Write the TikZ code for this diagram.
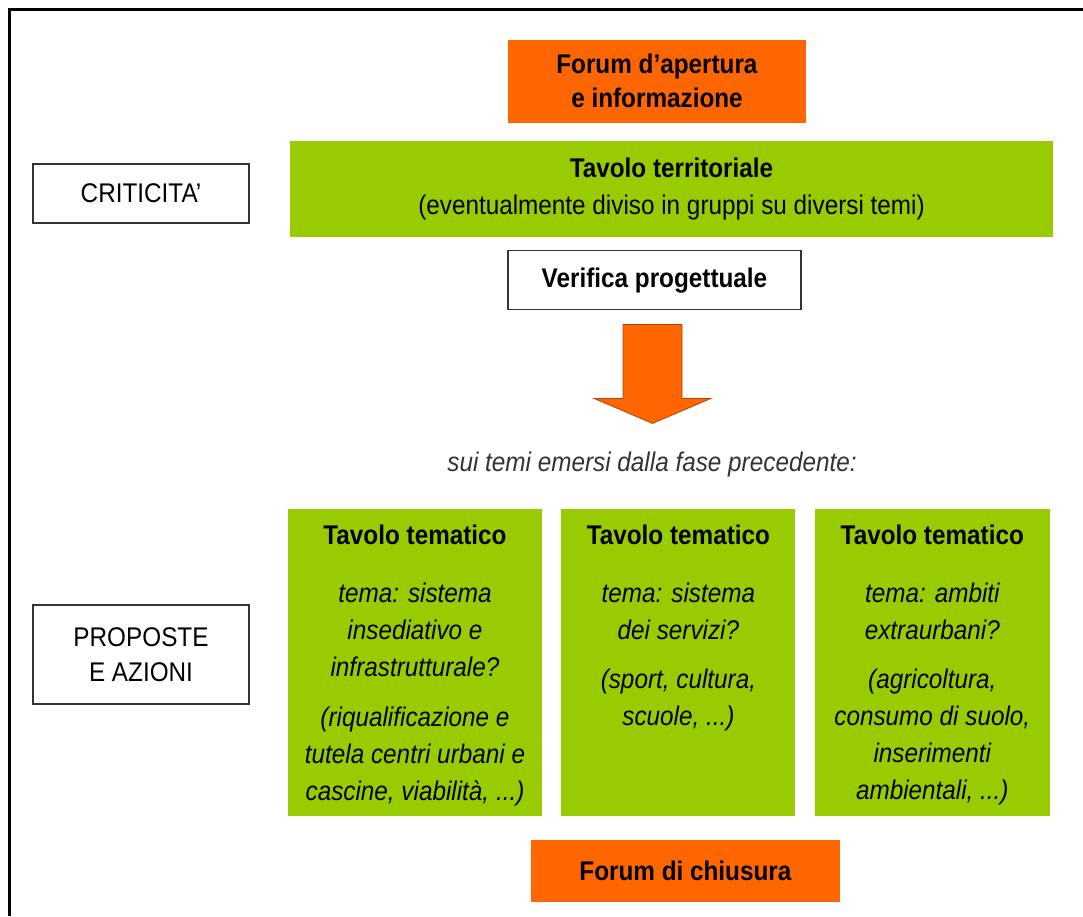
\documentclass[tikz,border=0pt]{standalone}
\usepackage{fontspec}
\setmainfont{Liberation Sans}[FakeStretch=0.9]
\usetikzlibrary{positioning}
\definecolor{forumorange}{RGB}{255,102,0}
\definecolor{tavologreen}{RGB}{153,204,0}

\begin{document}
\begin{tikzpicture}[
    x=1pt, y=-1pt,
    font=\fontsize{27}{37}\selectfont,
    forum/.style={fill=forumorange, align=center, inner sep=0pt},
    tavolo/.style={fill=tavologreen, align=center, inner sep=0pt},
    phase/.style={draw=black!80, line width=1.2pt, fill=white, align=center, inner sep=0pt},
    tema/.style={tavolo, minimum height=307pt},
    bigarrow/.style={fill=forumorange, draw=forumorange!70!black, line width=0.8pt}
  ]
    \useasboundingbox (0,0) rectangle (1083,916);
    \draw[line width=3pt] (9,916) -- (9,9) -- (1083,9);

    \node[tavolo, minimum width=763pt, minimum height=96pt] (terr) at (671.5,189) {\textbf{Tavolo territoriale}\\(eventualmente diviso in gruppi su diversi temi)};
    \node[forum, minimum width=298pt, minimum height=83pt, above=18pt of terr, xshift=-14.5pt] (open) {\textbf{Forum d\symbol{39}apertura}\\[-3pt]\textbf{e informazione}};
    \node[phase, minimum width=293pt, minimum height=59pt, below=13pt of terr, xshift=-17pt] (verif) {\textbf{Verifica progettuale}};
    \node[phase, minimum width=216pt, minimum height=59pt] (crit) at (141,193.5) {CRITICITA'};

    % freccia verso i tavoli tematici
    \begin{scope}[shift={(verif.south)}]
      \draw[bigarrow] (-31.5,14) -- (27.5,14) -- (27.5,88) -- (56.5,88) -- (-2,113) -- (-60.5,88) -- (-31.5,88) -- cycle;
    \end{scope}
    \node[text=black!80, font=\fontsize{27}{37}\selectfont\itshape] (note) at (652,465) {sui temi emersi dalla fase precedente:};

    \node[tema, minimum width=254pt] (tema1) at (415,662.5) {\parbox[c][275pt][t]{250pt}{\centering\textbf{Tavolo tematico}\par\vspace{21pt}\itshape tema: sistema\\insediativo e\\infrastrutturale?\par\vspace{13pt}(riqualificazione e\\tutela centri urbani e\\cascine, viabilità, ...)}};
    \node[tema, minimum width=234pt, right=19pt of tema1] (tema2) {\parbox[c][275pt][t]{230pt}{\centering\textbf{Tavolo tematico}\par\vspace{21pt}\itshape tema: sistema\\dei servizi?\par\vspace{12pt}(sport, cultura,\\scuole, ...)}};
    \node[tema, minimum width=235pt, right=19pt of tema2] (tema3) {\parbox[c][275pt][t]{231pt}{\centering\textbf{Tavolo tematico}\par\vspace{21pt}\itshape tema: ambiti\\extraurbani?\par\vspace{12pt}(agricoltura,\\consumo di suolo,\\inserimenti\\ambientali, ...)}};
    \node[phase, minimum width=216pt, minimum height=99pt] (prop) at (141,654.5) {PROPOSTE\\[-2pt]E AZIONI};

    \node[forum, minimum width=309pt, minimum height=62pt] (close) at (685.5,871) {\textbf{Forum di chiusura}};
  \end{tikzpicture}
\end{document}
